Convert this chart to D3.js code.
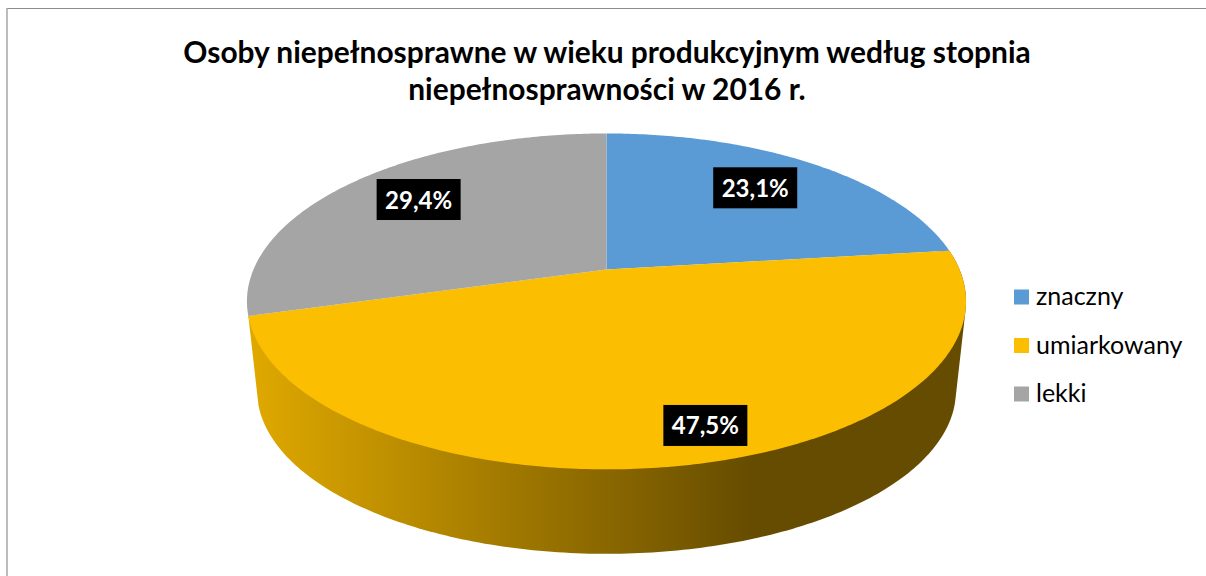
<!DOCTYPE html>
<html>
<head>
<meta charset="utf-8">
<script src="https://cdn.jsdelivr.net/npm/d3@7"></script>
<style>
html,body{margin:0;padding:0;background:#fff;overflow:hidden}
svg{display:block}
text{font-family:Lato,"Open Sans",sans-serif}
</style>
</head>
<body>
<svg id="c" width="1206" height="576"></svg>
<script>
const categories = ["znaczny", "umiarkowany", "lekki"];
const values = [23.1, 47.5, 29.4];
const valueLabels = ["23,1%", "47,5%", "29,4%"];
const colors = ["#5B9BD5", "#FBBE00", "#A5A5A5"];
const titleLines = ["Osoby niepełnosprawne w wieku produkcyjnym według stopnia", "niepełnosprawności w 2016 r."];

const svg = d3.select("#c");
const W = 1206, H = 576;

// frame
svg.append("line").attr("x1",7).attr("x2",W).attr("y1",8.5).attr("y2",8.5).attr("stroke","#8c8c8c").attr("stroke-width",1);
svg.append("line").attr("x1",7).attr("x2",7).attr("y1",8).attr("y2",H).attr("stroke","#a6a6a6").attr("stroke-width",1.5);

// perspective projection of the pie disc
const k = 0.19;
const topPlane = {cx:606.5, cy:269.5, C:353, B:161.9};
const botPlane = {cx:606.5, cy:360, C:343, B:157};
function project(p, angle, r){
  const u = Math.sin(angle)*r, v = -Math.cos(angle)*r, d = 1 - k*v;
  return [p.cx + p.C*u/d, p.cy + p.B*v/d];
}

const pie = d3.pie().value(d=>d).sort(null);
const arcs = pie(values);

function sliceTopPath(a){
  const n = Math.max(2, Math.ceil((a.endAngle-a.startAngle)*80));
  const pts = d3.range(n+1).map(i=>project(topPlane, a.startAngle+(a.endAngle-a.startAngle)*i/n, 1));
  return d3.line()([project(topPlane,0,0), ...pts]) + "Z";
}

// gradient for the side wall
const defs = svg.append("defs");
const grad = defs.append("linearGradient").attr("id","side").attr("gradientUnits","userSpaceOnUse")
  .attr("x1",250).attr("x2",752).attr("y1",0).attr("y2",0);
grad.append("stop").attr("offset",0).attr("stop-color","#E0A900");
grad.append("stop").attr("offset",1).attr("stop-color","#664C00");

// side wall of the front slice (convex hull of both rims)
const front = arcs[1];
const n = 200;
const rim = [];
d3.range(n+1).forEach(i=>{
  const t = front.startAngle+(front.endAngle-front.startAngle)*i/n;
  rim.push(project(topPlane,t,1), project(botPlane,t,1));
});
svg.append("path").attr("d", "M"+d3.polygonHull(rim).join("L")+"Z").attr("fill","url(#side)");

// top faces
svg.selectAll("path.slice").data(arcs).join("path").attr("class","slice")
  .attr("d",sliceTopPath).attr("fill",(d,i)=>colors[i]);

// data labels
const labelPlacement = [{r:0.727, da:-0.03},{r:0.848, da:-0.085},{r:0.747, da:0.035}];
const lab = svg.selectAll("g.lab").data(arcs).join("g").attr("class","lab")
  .attr("transform",(d,i)=>{
    const p = labelPlacement[i];
    const c = project(topPlane,(d.startAngle+d.endAngle)/2+p.da,p.r);
    return `translate(${c[0]},${c[1]})`;
  });
lab.append("rect").attr("x",-42).attr("y",-20.5).attr("width",84).attr("height",41).attr("fill","#000");
lab.append("text").attr("text-anchor","middle").attr("y",9).attr("fill","#fff")
  .attr("font-size",24).attr("font-weight",700).text((d,i)=>valueLabels[i]);

// title
svg.selectAll("text.title").data(titleLines).join("text").attr("class","title")
  .attr("x",607).attr("y",(d,i)=>63+i*37).attr("text-anchor","middle")
  .attr("font-size",29.9).attr("font-weight",700).attr("fill","#000").text(d=>d);

// legend
const leg = svg.selectAll("g.leg").data(categories).join("g").attr("class","leg")
  .attr("transform",(d,i)=>`translate(1014,${d3.scaleLinear().domain([0,2]).range([297,394])(i)})`);
leg.append("rect").attr("x",0).attr("y",-7.5).attr("width",15).attr("height",15).attr("fill",(d,i)=>colors[i]);
leg.append("text").attr("x",22).attr("y",8).attr("font-size",25).attr("fill","#000").text(d=>d);
</script>
</body>
</html>
